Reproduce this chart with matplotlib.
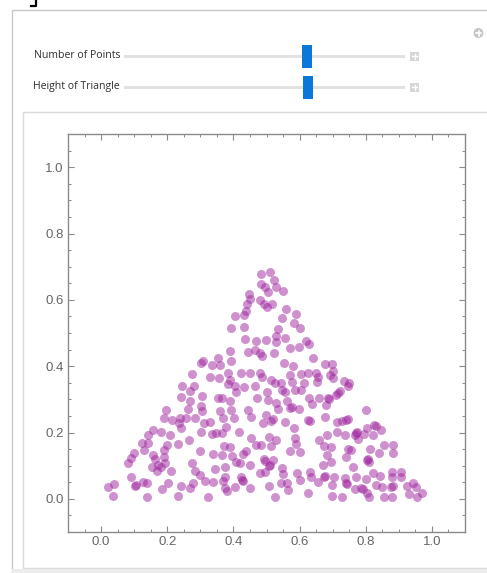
import numpy as np
import matplotlib
matplotlib.use("Agg")
import matplotlib.pyplot as plt
from matplotlib.patches import Rectangle, Circle

# point coordinates
point_x = [
    0.308, 0.301, 0.275, 0.329,
    0.484, 0.510, 0.522, 0.484, 0.494, 0.504, 0.528, 0.549, 0.446, 0.451, 0.442, 0.479,
    0.492, 0.500, 0.516, 0.437, 0.404, 0.431, 0.558, 0.548, 0.588, 0.583, 0.602, 0.394,
    0.431, 0.535, 0.530, 0.530, 0.555, 0.436, 0.467, 0.497, 0.444, 0.464, 0.479, 0.486,
    0.522, 0.570, 0.598, 0.620, 0.628, 0.641, 0.389, 0.394, 0.352, 0.359, 0.334, 0.553,
    0.580, 0.605, 0.625, 0.357, 0.384, 0.389, 0.384, 0.404, 0.424, 0.449, 0.479, 0.486,
    0.515, 0.525, 0.545, 0.570, 0.577, 0.612,
    0.678, 0.698, 0.702, 0.693, 0.700, 0.650, 0.657, 0.653, 0.734, 0.748,
    0.245, 0.270, 0.281, 0.241, 0.268, 0.305, 0.301, 0.305, 0.263, 0.195, 0.191, 0.213,
    0.238, 0.235, 0.241, 0.258, 0.285, 0.311, 0.301, 0.265, 0.233, 0.298, 0.158, 0.180,
    0.143, 0.123, 0.143, 0.131, 0.158, 0.163, 0.190, 0.198, 0.208, 0.191, 0.173, 0.168,
    0.181, 0.153, 0.211, 0.100, 0.090, 0.082, 0.275, 0.283, 0.298, 0.314, 0.090, 0.193,
    0.409, 0.432, 0.464, 0.500, 0.546, 0.555, 0.585, 0.605, 0.354, 0.366, 0.389, 0.472,
    0.504, 0.530, 0.563, 0.577, 0.597, 0.627, 0.637, 0.359, 0.369, 0.392, 0.402, 0.444,
    0.454, 0.497, 0.515, 0.520, 0.489, 0.535, 0.555, 0.583, 0.570, 0.625, 0.630, 0.329,
    0.379,
    0.334, 0.364, 0.417, 0.454, 0.509, 0.530, 0.585, 0.588, 0.660, 0.682, 0.371, 0.391,
    0.339, 0.364, 0.397, 0.429, 0.437, 0.467, 0.484, 0.515, 0.570, 0.602, 0.675, 0.682,
    0.409, 0.421, 0.449, 0.491, 0.507, 0.519, 0.374, 0.344, 0.670, 0.630, 0.374, 0.339,
    0.369, 0.424, 0.429, 0.479, 0.494, 0.548, 0.550, 0.545, 0.562, 0.592, 0.602, 0.635,
    0.655, 0.675, 0.374, 0.380, 0.404, 0.449, 0.509, 0.565, 0.625, 0.525, 0.494, 0.511,
    0.427, 0.678, 0.346,
    0.746, 0.721, 0.711, 0.715, 0.685, 0.690, 0.660, 0.680, 0.801, 0.677, 0.714, 0.741,
    0.745, 0.727, 0.714, 0.736, 0.766, 0.770, 0.778, 0.774, 0.796, 0.804, 0.826, 0.830,
    0.846, 0.821, 0.696, 0.746, 0.754, 0.741, 0.696, 0.814, 0.841, 0.854, 0.881, 0.881,
    0.804, 0.808, 0.811, 0.761, 0.705, 0.736, 0.771, 0.801, 0.821, 0.844, 0.878, 0.878,
    0.906, 0.906,
    0.021, 0.039, 0.036, 0.103, 0.107, 0.139, 0.127, 0.139, 0.184, 0.202, 0.232, 0.241,
    0.268, 0.277, 0.323, 0.699, 0.699, 0.727, 0.739, 0.743, 0.769, 0.787, 0.791, 0.805,
    0.811, 0.832, 0.850, 0.856, 0.877, 0.881, 0.880, 0.926, 0.932, 0.944, 0.953, 0.956,
    0.971,
]
point_y = [
    0.416, 0.411, 0.377, 0.366,
    0.678, 0.683, 0.660, 0.648, 0.638, 0.624, 0.639, 0.627, 0.617, 0.604, 0.586, 0.599,
    0.586, 0.579, 0.587, 0.567, 0.551, 0.554, 0.572, 0.544, 0.556, 0.529, 0.514, 0.516,
    0.518, 0.512, 0.492, 0.474, 0.486, 0.482, 0.476, 0.479, 0.442, 0.449, 0.439, 0.432,
    0.439, 0.456, 0.459, 0.476, 0.468, 0.425, 0.446, 0.416, 0.426, 0.404, 0.404, 0.409,
    0.399, 0.375, 0.379, 0.365, 0.379, 0.358, 0.346, 0.341, 0.379, 0.379, 0.379, 0.367,
    0.358, 0.348, 0.350, 0.373, 0.353, 0.348,
    0.408, 0.408, 0.384, 0.372, 0.364, 0.379, 0.368, 0.353, 0.356, 0.348,
    0.340, 0.325, 0.340, 0.308, 0.296, 0.311, 0.281, 0.265, 0.271, 0.268, 0.243, 0.238,
    0.245, 0.228, 0.213, 0.245, 0.245, 0.228, 0.203, 0.178, 0.165, 0.143, 0.208, 0.203,
    0.193, 0.168, 0.168, 0.148, 0.133, 0.120, 0.127, 0.161, 0.191, 0.148, 0.102, 0.084,
    0.097, 0.097, 0.084, 0.138, 0.123, 0.108, 0.108, 0.084, 0.072, 0.054, 0.067, 0.107,
    0.323, 0.338, 0.340, 0.323, 0.328, 0.322, 0.328, 0.328, 0.303, 0.305, 0.295, 0.305,
    0.298, 0.288, 0.295, 0.278, 0.271, 0.303, 0.285, 0.265, 0.243, 0.268, 0.243, 0.268,
    0.248, 0.253, 0.235, 0.240, 0.228, 0.271, 0.231, 0.215, 0.275, 0.238, 0.234, 0.233,
    0.218,
    0.196, 0.198, 0.203, 0.183, 0.186, 0.178, 0.183, 0.166, 0.178, 0.193, 0.158, 0.156,
    0.136, 0.133, 0.130, 0.136, 0.143, 0.163, 0.163, 0.158, 0.143, 0.140, 0.158, 0.133,
    0.112, 0.108, 0.102, 0.120, 0.099, 0.117, 0.095, 0.089, 0.102, 0.082, 0.067, 0.052,
    0.055, 0.065, 0.055, 0.079, 0.082, 0.092, 0.075, 0.049, 0.049, 0.079, 0.057, 0.067,
    0.052, 0.067, 0.032, 0.025, 0.037, 0.032, 0.039, 0.027, 0.019, 0.005, 0.114, 0.103,
    0.058, 0.070, 0.200,
    0.340, 0.325, 0.313, 0.318, 0.305, 0.300, 0.305, 0.283, 0.268, 0.248, 0.233, 0.238,
    0.242, 0.235, 0.203, 0.191, 0.193, 0.197, 0.181, 0.203, 0.195, 0.215, 0.223, 0.219,
    0.208, 0.193, 0.155, 0.151, 0.148, 0.127, 0.110, 0.151, 0.138, 0.161, 0.163, 0.138,
    0.117, 0.121, 0.110, 0.097, 0.067, 0.064, 0.067, 0.060, 0.077, 0.070, 0.080, 0.067,
    0.080, 0.067,
    0.036, 0.045, 0.009, 0.039, 0.043, 0.048, 0.052, 0.006, 0.030, 0.048, 0.009, 0.039,
    0.033, 0.048, 0.006, 0.042, 0.009, 0.006, 0.048, 0.044, 0.030, 0.033, 0.029, 0.018,
    0.006, 0.042, 0.036, 0.006, 0.036, 0.040, 0.006, 0.039, 0.015, 0.048, 0.036, 0.006,
    0.018,
]

slider_labels = ["Number of Points", "Height of Triangle"]
major_ticks = [0.0, 0.2, 0.4, 0.6, 0.8, 1.0]
tick_labels = ["0.0", "0.2", "0.4", "0.6", "0.8", "1.0"]

W, H = 487, 573
fig = plt.figure(figsize=(W / 100, H / 100), dpi=100)

# background layer in pixel coordinates (panels + controls)
bg = fig.add_axes([0, 0, 1, 1])
bg.set_xlim(0, W)
bg.set_ylim(H, 0)
bg.axis("off")

bg.plot([31, 36, 36], [6, 6, 0], color="black", lw=1.6)
bg.add_patch(Rectangle((11.5, 9.5), 500, 600, facecolor="white", edgecolor="#c8c8c8", lw=1))
bg.add_patch(Rectangle((22.5, 112), 470, 456, facecolor="white", edgecolor="#dadada", lw=1))
bg.add_patch(Rectangle((12, 568.5), 480, 10, facecolor="#ececec", edgecolor="none"))

for i, lab in enumerate(slider_labels):
    yc = 56 + i * 31
    thumb_x = 302 + i
    bg.text(120, yc, lab, ha="right", va="center", fontsize=7.6,
            family="Open Sans", color="#303030")
    bg.add_patch(Rectangle((124, yc - 1.5), 281, 3, facecolor="#e2e2e2", edgecolor="none"))
    bg.add_patch(Rectangle((thumb_x, yc - 11.5), 10, 23, facecolor="#0a77d9", edgecolor="none"))
    bg.add_patch(Rectangle((410, yc - 4.5), 9, 9, facecolor="#d6d6d6", edgecolor="none"))
    bg.plot([412, 417], [yc, yc], color="white", lw=1)
    bg.plot([414.5, 414.5], [yc - 2.5, yc + 2.5], color="white", lw=1)

bg.add_patch(Circle((478.5, 33), 5, facecolor="#c6c6c6", edgecolor="none"))
bg.plot([476, 481], [33, 33], color="white", lw=1.2)
bg.plot([478.5, 478.5], [30.5, 35.5], color="white", lw=1.2)

# the plot
ax = fig.add_axes([68 / W, 1 - 532 / H, 397 / W, 398 / H])
ax.scatter(point_x, point_y, s=42, color="#9f259f", alpha=0.5, linewidths=0)
ax.set_xlim(-0.1, 1.1)
ax.set_ylim(-0.1, 1.1)

frame_col = "#8a8a8a"
for sp in ax.spines.values():
    sp.set_color(frame_col)
    sp.set_linewidth(1)

minor = [v / 100 for v in range(-5, 110, 5) if v % 20 != 0]
ax.set_xticks(major_ticks)
ax.set_yticks(major_ticks)
ax.set_xticklabels(tick_labels)
ax.set_yticklabels(tick_labels)
ax.set_xticks(minor, minor=True)
ax.set_yticks(minor, minor=True)
ax.tick_params(which="both", direction="in", top=True, right=True,
               color=frame_col, labelcolor="#666666", labelsize=9.5, pad=3)
ax.tick_params(which="major", length=4.5, width=0.8)
ax.tick_params(which="minor", length=2.5, width=0.7)
for t in ax.get_xticklabels() + ax.get_yticklabels():
    t.set_family("Liberation Sans")

fig.savefig("out.png", dpi=100)
